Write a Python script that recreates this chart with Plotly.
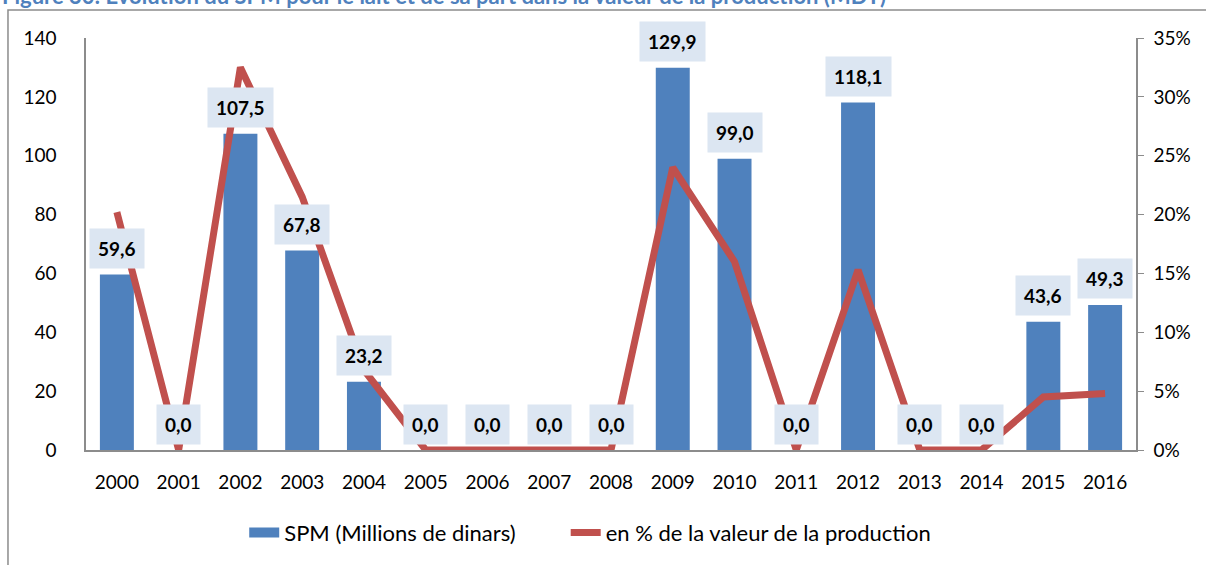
import plotly.graph_objects as go

years = ['2000', '2001', '2002', '2003', '2004', '2005', '2006', '2007', '2008',
         '2009', '2010', '2011', '2012', '2013', '2014', '2015', '2016']
spm = [59.6, 0.0, 107.5, 67.8, 23.2, 0.0, 0.0, 0.0, 0.0,
       129.9, 99.0, 0.0, 118.1, 0.0, 0.0, 43.6, 49.3]
part = [0.202, 0.0, 0.325, 0.215, 0.068, 0.0, 0.0, 0.0, 0.0,
        0.24, 0.16, 0.0, 0.153, 0.0, 0.0, 0.045, 0.048]

font_name = 'Lato'
bar_color = '#4F81BD'
line_color = '#C0504D'

fig = go.Figure()

fig.add_trace(go.Bar(
    x=years, y=spm,
    name='SPM (Millions de dinars)',
    marker_color=bar_color,
    marker_line_width=0,
    showlegend=False,
))
# legend entry for the bars, drawn as a wide swatch like Excel
# (non-breaking spaces widen the gap to the next legend item)
fig.add_trace(go.Scatter(
    x=[None], y=[None],
    name='SPM (Millions de dinars)' + '\u00a0' * 8,
    mode='lines',
    line=dict(color=bar_color, width=12),
))
fig.add_trace(go.Scatter(
    x=years, y=part,
    name='en % de la valeur de la production',
    mode='lines',
    line=dict(color=line_color, width=7),
    yaxis='y2',
))

# data labels above the bars (x given as category index)
for i, v in enumerate(spm):
    fig.add_annotation(
        x=i, y=v, yshift=26,
        text='<b>' + f'{v:.1f}'.replace('.', ',') + '</b>',
        showarrow=False,
        font=dict(family=font_name, size=19, color='black'),
        bgcolor='#DCE6F2',
        borderpad=8,
    )

# title, cut off at the top of the picture
fig.add_annotation(
    xref='paper', yref='paper', x=-0.082, y=1.102,
    xanchor='left', yanchor='middle',
    text='<b>Figure 30: Évolution du SPM pour le lait et de sa part dans la valeur de la production (MDT)</b>',
    showarrow=False,
    font=dict(family=font_name, size=22, color='#4F81BD'),
)

# outer frame
fig.add_shape(
    type='rect', xref='paper', yref='paper',
    x0=-0.0743, x1=1.2, y0=-0.5, y1=1.068,
    line=dict(color='#8C8C8C', width=1.5),
    layer='below',
)

fig.update_layout(
    width=1206, height=565,
    margin=dict(l=86, r=70, t=38, b=115),
    plot_bgcolor='white',
    paper_bgcolor='white',
    bargap=0.45,
    font=dict(family=font_name, size=19, color='black'),
    xaxis=dict(
        type='category',
        range=[-0.5, len(years) - 0.5],
        automargin=False,
        showline=True, linecolor='#8C8C8C', linewidth=1.5,
        showgrid=False, ticks='',
        ticklabelstandoff=14,
        tickfont=dict(size=19),
    ),
    yaxis=dict(
        range=[0, 140], dtick=20,
        automargin=False,
        showline=True, linecolor='#8C8C8C', linewidth=1.5,
        showgrid=False, zeroline=False, ticks='',
        ticklabelstandoff=24,
        tickfont=dict(size=19),
    ),
    yaxis2=dict(
        overlaying='y', side='right',
        range=[0, 0.35], dtick=0.05, tickformat='.0%',
        automargin=False,
        showline=True, linecolor='#8C8C8C', linewidth=1.5,
        showgrid=False, zeroline=False,
        ticks='outside', ticklen=6, tickcolor='#8C8C8C',
        ticklabelstandoff=6,
        tickfont=dict(size=19),
    ),
    legend=dict(
        orientation='h',
        xref='container', yref='container',
        x=0.2025, xanchor='left', y=0.057, yanchor='middle',
        font=dict(size=22),
    ),
)

# drop the default body margin so the figure sits at the window's corner
fig.write_html('out.html', config={'displayModeBar': False},
               post_script="document.body.style.margin='0';")
